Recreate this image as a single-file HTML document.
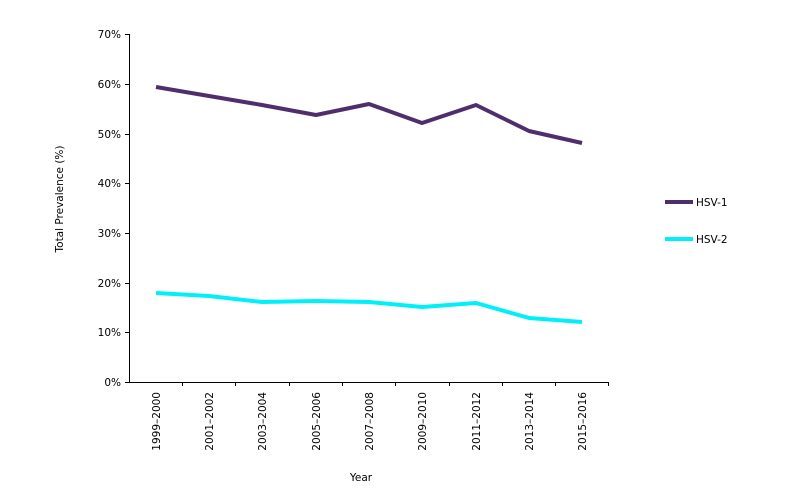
<!DOCTYPE html>
<html><head><style>body{margin:0;background:#fff}svg{display:block}text{font-family:"DejaVu Sans","Liberation Sans",sans-serif;font-size:10.5px;fill:#000}</style></head>
<body>
<svg width="789" height="492" viewBox="0 0 789 492" xmlns="http://www.w3.org/2000/svg">
<g stroke="#000" stroke-width="1">
<line x1="129.5" y1="34" x2="129.5" y2="382"/>
<line x1="129" y1="382.5" x2="609" y2="382.5"/>
<line x1="125" y1="34.5" x2="129" y2="34.5"/>
<line x1="125" y1="84.5" x2="129" y2="84.5"/>
<line x1="125" y1="134.5" x2="129" y2="134.5"/>
<line x1="125" y1="183.5" x2="129" y2="183.5"/>
<line x1="125" y1="233.5" x2="129" y2="233.5"/>
<line x1="125" y1="283.5" x2="129" y2="283.5"/>
<line x1="125" y1="332.5" x2="129" y2="332.5"/>
<line x1="125" y1="382.5" x2="129" y2="382.5"/>
<line x1="182.5" y1="382" x2="182.5" y2="386"/>
<line x1="235.5" y1="382" x2="235.5" y2="386"/>
<line x1="289.5" y1="382" x2="289.5" y2="386"/>
<line x1="342.5" y1="382" x2="342.5" y2="386"/>
<line x1="395.5" y1="382" x2="395.5" y2="386"/>
<line x1="449.5" y1="382" x2="449.5" y2="386"/>
<line x1="502.5" y1="382" x2="502.5" y2="386"/>
<line x1="555.5" y1="382" x2="555.5" y2="386"/>
<line x1="608.5" y1="382" x2="608.5" y2="386"/>
</g>
<g text-anchor="end">
<text x="121" y="38">70%</text><text x="121" y="88">60%</text><text x="121" y="138">50%</text><text x="121" y="187">40%</text><text x="121" y="237">30%</text><text x="121" y="287">20%</text><text x="121" y="336">10%</text><text x="121" y="386">0%</text>
</g>
<g text-anchor="end">
<text transform="translate(160,392) rotate(-90)">1999–2000</text>
<text transform="translate(213,392) rotate(-90)">2001–2002</text>
<text transform="translate(266,392) rotate(-90)">2003–2004</text>
<text transform="translate(320,392) rotate(-90)">2005–2006</text>
<text transform="translate(373,392) rotate(-90)">2007–2008</text>
<text transform="translate(426,392) rotate(-90)">2009–2010</text>
<text transform="translate(480,392) rotate(-90)">2011–2012</text>
<text transform="translate(533,392) rotate(-90)">2013–2014</text>
<text transform="translate(586,392) rotate(-90)">2015–2016</text>
</g>
<text x="361" y="481" text-anchor="middle">Year</text>
<text transform="translate(63,199) rotate(-90)" text-anchor="middle">Total Prevalence (%)</text>
<polyline fill="none" stroke="#4f2f6b" stroke-width="4" stroke-linejoin="round" points="156,87 209,96 262,105 316,115 369,104 422,123 476,105 529,131 582,143"/>
<polyline fill="none" stroke="#00f0f8" stroke-width="4" stroke-linejoin="round" points="156,293 209,296 262,302 316,301 369,302 422,307 476,303 529,318 582,322"/>
<line x1="665" y1="202" x2="693" y2="202" stroke="#4f2f6b" stroke-width="4"/>
<text x="696" y="206">HSV-1</text>
<line x1="665" y1="239" x2="693" y2="239" stroke="#00f0f8" stroke-width="4"/>
<text x="696" y="243">HSV-2</text>
</svg>
</body></html>
